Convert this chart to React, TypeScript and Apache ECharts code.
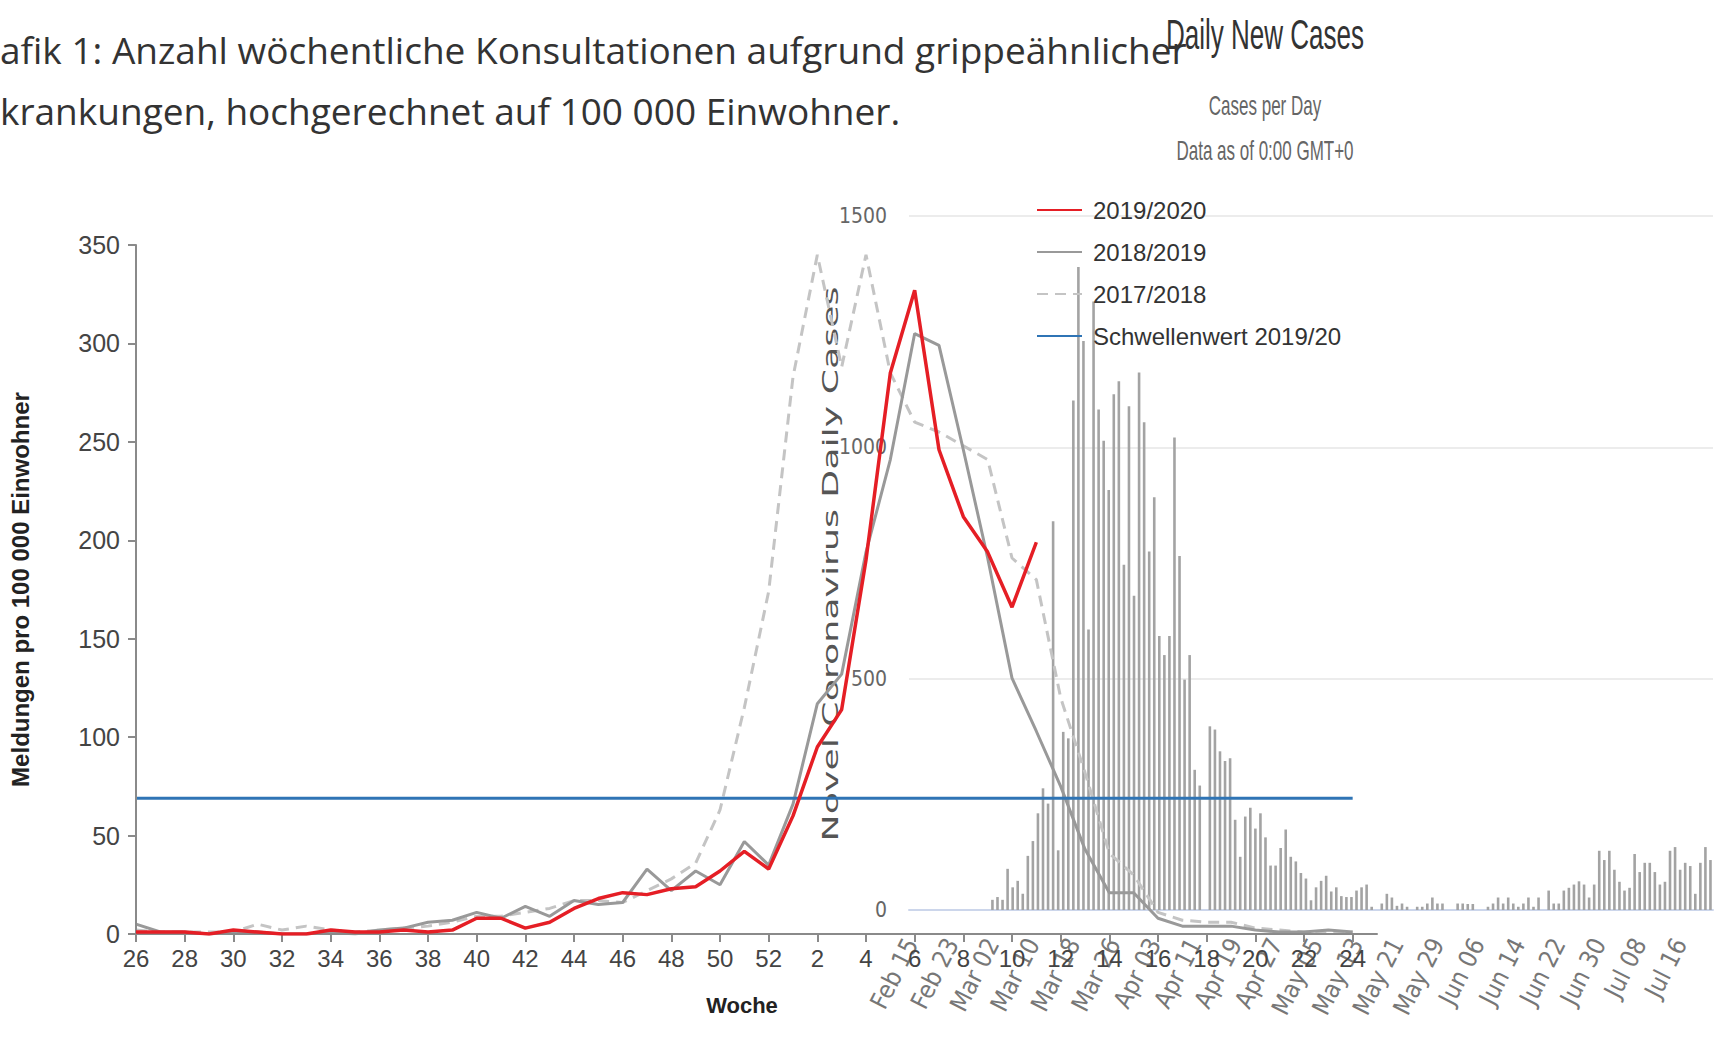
import React, { useEffect, useRef } from "react";
import * as echarts from "echarts";

// ---------- Left chart: influenza-like illness consultations (per 100 000) ----------
const WEEKS = [
  "26", "27", "28", "29", "30", "31", "32", "33", "34", "35", "36", "37", "38", "39", "40",
  "41", "42", "43", "44", "45", "46", "47", "48", "49", "50", "51", "52",
  "1", "2", "3", "4", "5", "6", "7", "8", "9", "10", "11", "12", "13", "14", "15", "16",
  "17", "18", "19", "20", "21", "22", "23", "24", "25",
];

const SEASON_2019_2020 = [
  1, 1, 1, 0, 2, 1, 0, 0, 2, 1, 1, 2, 1, 2, 8, 8, 3, 6, 13, 18, 21, 20, 23, 24, 32, 42, 33,
  60, 95, 114, 190, 285, 327, 246, 212, 194, 166, 199,
];

const SEASON_2018_2019 = [
  5, 1, 1, 0, 1, 1, 0, 0, 1, 0, 2, 3, 6, 7, 11, 8, 14, 9, 17, 15, 16, 33, 22, 32, 25, 47, 35,
  66, 117, 132, 194, 241, 305, 299, 246, 191, 130, 103, 75, 43, 21, 21, 8, 4, 4, 4, 2, 1, 1, 2, 1,
];

const SEASON_2017_2018 = [
  2, 1, 1, 1, 1, 5, 2, 4, 2, 1, 2, 3, 4, 6, 9, 9, 11, 13, 17, 17, 16, 22, 28, 36, 63, 115, 174,
  283, 345, 288, 345, 285, 260, 255, 248, 241, 191, 180, 120, 82, 41, 30, 11, 7, 6, 6, 3, 2, 1, 1, 1,
];

const THRESHOLD_2019_20 = 69;
const THRESHOLD_FROM_WEEK = "26";
const THRESHOLD_TO_WEEK = "24";

const LEGEND_NAMES = ["2019/2020", "2018/2019", "2017/2018", "Schwellenwert 2019/20"];

// ---------- Right chart: daily new COVID cases ----------
const COVID_START = { year: 2020, month: 1, day: 15 }; // Feb 15 (month 0-based)
const COVID_DAILY = [
  0, 0, 0, 0, 0, 0, 0, 0, 0, 0, 0, 0, 0, 0, 0, 0,
  22, 28, 22, 89, 49, 63, 35, 117, 149, 209,
  263, 230, 840, 129, 385, 371, 1101, 1390, 1230, 606,
  1315, 1082, 1014, 908, 1115, 1143, 746, 1089, 679, 1162,
  1054, 775, 892, 592, 551, 592, 1021, 765, 498, 551,
  303, 269,
  0,
  397, 390, 343, 322, 328, 195, 115, 202, 221, 176,
  209, 157, 96, 96, 134, 174, 115, 105, 80, 68,
  21, 49, 63, 74, 40, 49, 30, 28, 28, 42,
  49, 55, 7,
  0, 14, 35, 27, 9, 14, 7, 0, 7, 7,
  14, 27, 14, 14, 0, 0, 14, 14, 13, 13,
  0, 0,
  7, 14, 27, 14, 27, 14, 7, 14, 27, 7,
  27, 0, 42, 14, 14, 42, 48, 55, 62, 55,
  27, 55, 128, 108, 128, 87, 61, 42, 48, 121,
  82, 102, 102, 82, 55, 61, 128, 136, 87, 102,
  95, 35, 102, 136, 108,
];

const MONTHS = ["Jan", "Feb", "Mar", "Apr", "May", "Jun", "Jul", "Aug", "Sep", "Oct", "Nov", "Dec"];

function buildDates(n: number): string[] {
  const out: string[] = [];
  for (let i = 0; i < n; i++) {
    const d = new Date(Date.UTC(COVID_START.year, COVID_START.month, COVID_START.day + i));
    out.push(MONTHS[d.getUTCMonth()] + " " + String(d.getUTCDate()).padStart(2, "0"));
  }
  return out;
}

const ARIAL = "'Liberation Sans', Arial, Helvetica, sans-serif";
const NARROW = "'Liberation Sans Narrow', 'DejaVu Sans Condensed', 'Liberation Sans', sans-serif";

export default function App() {
  const ref = useRef<HTMLDivElement>(null);

  useEffect(() => {
    if (!ref.current) return;
    const chart = echarts.init(ref.current, undefined, { renderer: "svg" });
    const dates = buildDates(COVID_DAILY.length);
    const axisGray = "#8a8a8a";

    const option: any = {
      animation: false,
      backgroundColor: "#ffffff",
      grid: [
        { left: 128, top: 245, width: 1249, height: 689 },
        { left: 909, right: 4, top: 216, height: 694 },
      ],
      legend: {
        data: LEGEND_NAMES,
        orient: "vertical",
        left: 1031,
        top: 193,
        itemWidth: 45,
        itemHeight: 14,
        itemGap: 18,
        itemStyle: { opacity: 0 },
        textStyle: { fontFamily: ARIAL, fontSize: 24, color: "#333", padding: [0, 0, 0, 6] },
        z: 8,
      },
      xAxis: [
        {
          gridIndex: 0,
          type: "category",
          data: WEEKS,
          boundaryGap: false,
          axisLine: { lineStyle: { color: axisGray, width: 2 } },
          axisTick: { interval: 1, length: 8, lineStyle: { color: axisGray, width: 2 } },
          axisLabel: { interval: 1, color: "#444", fontSize: 24, fontFamily: ARIAL, margin: 12 },
          splitLine: { show: false },
          z: 6,
        },
        {
          gridIndex: 1,
          type: "category",
          data: dates,
          axisLine: { lineStyle: { color: "#ccd6eb", width: 2 } },
          axisTick: { show: false },
          axisLabel: {
            interval: 7,
            rotate: 63,
            color: "#777",
            fontSize: 25,
            fontFamily: NARROW,
            margin: 30,
          },
          splitLine: { show: false },
        },
      ],
      yAxis: [
        {
          gridIndex: 0,
          type: "value",
          min: 0,
          max: 350,
          interval: 50,
          name: "Meldungen pro 100 000 Einwohner",
          nameLocation: "middle",
          nameGap: 104,
          nameTextStyle: { fontWeight: "bold", fontSize: 24, color: "#222", fontFamily: ARIAL },
          axisLine: { show: true, lineStyle: { color: axisGray, width: 2 } },
          axisTick: { show: true, length: 8, lineStyle: { color: axisGray, width: 2 } },
          axisLabel: { color: "#444", fontSize: 25, fontFamily: ARIAL, margin: 16 },
          splitLine: { show: false },
          z: 6,
        },
        {
          gridIndex: 1,
          type: "value",
          min: 0,
          max: 1500,
          interval: 500,
          axisLine: { show: false },
          axisTick: { show: false },
          axisLabel: {
            color: "#666",
            fontSize: 21,
            fontFamily: NARROW,
            margin: 22,
            formatter: (v: number) => String(v),
          },
          splitLine: { lineStyle: { color: "#e6e6e6", width: 1.5 } },
        },
      ],
      graphic: [
        {
          type: "text",
          x: 0,
          y: 49,
          style: {
            text: "afik 1: Anzahl wöchentliche Konsultationen aufgrund grippeähnlicher",
            fontFamily: "'Open Sans', 'Noto Sans', sans-serif",
            fontSize: 37,
            fill: "#333",
            textVerticalAlign: "middle",
          },
        },
        {
          type: "text",
          x: 0,
          y: 110,
          style: {
            text: "krankungen, hochgerechnet auf 100 000 Einwohner.",
            fontFamily: "'Open Sans', 'Noto Sans', sans-serif",
            fontSize: 37,
            fill: "#333",
            textVerticalAlign: "middle",
          },
        },
        {
          type: "text",
          x: 1265,
          y: 34,
          scaleX: 0.62,
          style: {
            text: "Daily New Cases",
            fontFamily: ARIAL,
            fontSize: 42,
            fill: "#333",
            textAlign: "center",
            textVerticalAlign: "middle",
          },
        },
        {
          type: "text",
          x: 1265,
          y: 106,
          scaleX: 0.63,
          style: {
            text: "Cases per Day",
            fontFamily: ARIAL,
            fontSize: 27,
            fill: "#666",
            textAlign: "center",
            textVerticalAlign: "middle",
          },
        },
        {
          type: "text",
          x: 1265,
          y: 151,
          scaleX: 0.63,
          style: {
            text: "Data as of 0:00 GMT+0",
            fontFamily: ARIAL,
            fontSize: 27,
            fill: "#666",
            textAlign: "center",
            textVerticalAlign: "middle",
          },
        },
        {
          type: "text",
          x: 830,
          y: 564,
          rotation: Math.PI / 2,
          scaleX: 1.65,
          style: {
            text: "Novel Coronavirus Daily Cases",
            fontFamily: "'DejaVu Sans', Verdana, sans-serif",
            fontSize: 22,
            fill: "#555",
            textAlign: "center",
            textVerticalAlign: "middle",
          },
        },
        {
          type: "text",
          x: 742,
          y: 1005,
          style: {
            text: "Woche",
            fontFamily: ARIAL,
            fontSize: 22,
            fontWeight: "bold",
            fill: "#222",
            textAlign: "center",
            textVerticalAlign: "middle",
          },
        },
      ],
      series: [
        {
          name: "Daily Cases",
          type: "bar",
          xAxisIndex: 1,
          yAxisIndex: 1,
          data: COVID_DAILY,
          barWidth: 2.6,
          itemStyle: { color: "#a3a3a3" },
          z: 1,
        },
        {
          name: "2017/2018",
          type: "line",
          xAxisIndex: 0,
          yAxisIndex: 0,
          data: SEASON_2017_2018,
          symbol: "none",
          color: "#c4c4c4",
          itemStyle: { color: "#c4c4c4" },
          lineStyle: { color: "#c4c4c4", width: 3, type: [11, 7] },
          z: 5,
        },
        {
          name: "2018/2019",
          type: "line",
          xAxisIndex: 0,
          yAxisIndex: 0,
          data: SEASON_2018_2019,
          symbol: "none",
          color: "#999999",
          itemStyle: { color: "#999999" },
          lineStyle: { color: "#999999", width: 3 },
          z: 5,
        },
        {
          name: "Schwellenwert 2019/20",
          type: "line",
          xAxisIndex: 0,
          yAxisIndex: 0,
          data: [
            [WEEKS.indexOf(THRESHOLD_FROM_WEEK), THRESHOLD_2019_20],
            [WEEKS.indexOf(THRESHOLD_TO_WEEK), THRESHOLD_2019_20],
          ],
          symbol: "none",
          color: "#2f74b5",
          itemStyle: { color: "#2f74b5" },
          lineStyle: { color: "#2f74b5", width: 3 },
          z: 5,
        },
        {
          name: "2019/2020",
          type: "line",
          xAxisIndex: 0,
          yAxisIndex: 0,
          data: SEASON_2019_2020,
          symbol: "none",
          color: "#e51e25",
          itemStyle: { color: "#e51e25" },
          lineStyle: { color: "#e51e25", width: 3.5 },
          z: 6,
        },
      ],
    };

    chart.setOption(option);
    return () => chart.dispose();
  }, []);

  return (
    <div
      ref={ref}
      style={{ position: "fixed", left: 0, top: 0, width: 1717, height: 1041, background: "#fff" }}
    />
  );
}
